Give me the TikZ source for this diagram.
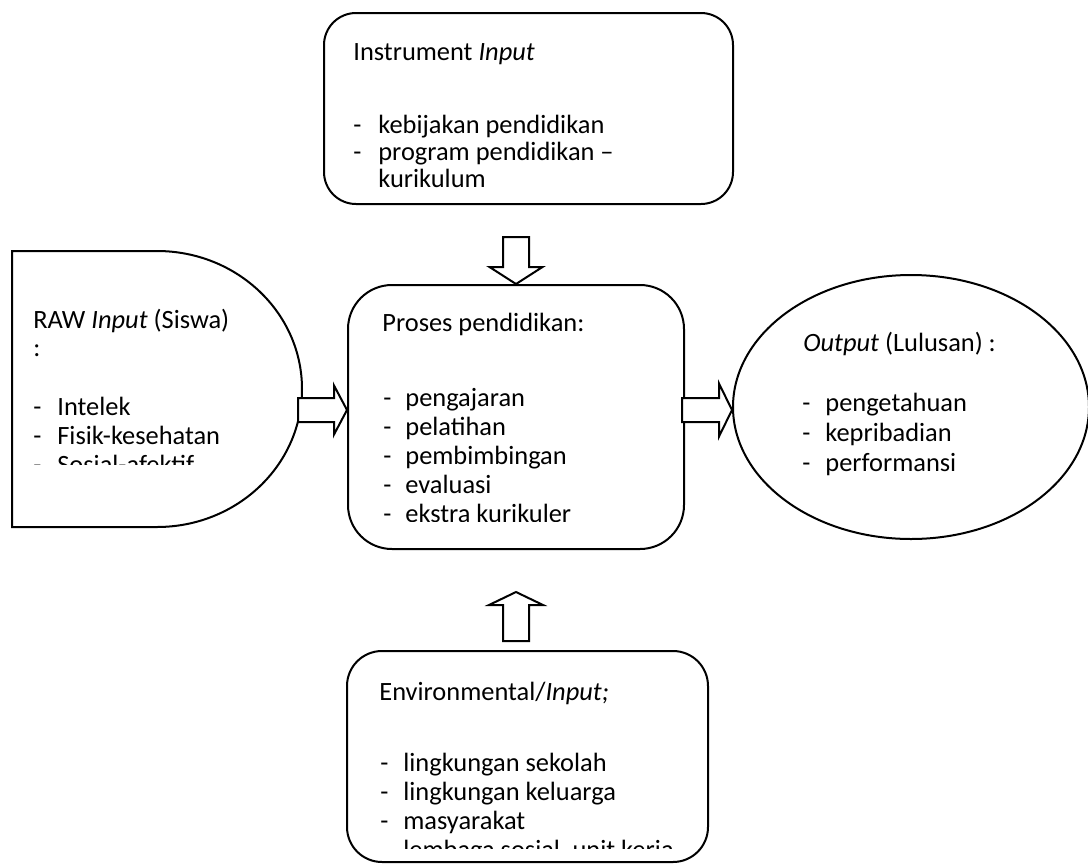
\documentclass[tikz,border=0pt]{standalone}
\usepackage{fontspec}
\setmainfont{Carlito}
\usetikzlibrary{shapes.geometric}
\newlength{\du}
\setlength{\du}{0.5pt}
\newcommand{\listdash}[1]{\makebox[#1][l]{-}}
\tikzset{
  panel/.style={draw=black, line width=2\du, fill=white, inner sep=0pt},
  blockarrow/.style={draw=black, line width=2\du, fill=white, line join=miter},
  linetext/.style={anchor=base west, inner sep=0pt, font=\fontsize{13.2}{16}\selectfont},
}
\begin{document}
\begin{tikzpicture}
\pgftransformxscale{1.000000}
\pgftransformyscale{-1.000000}
\fill[white] (0\du,0\du) rectangle (1088\du,863\du);
\useasboundingbox (0\du,0\du) rectangle (1088\du,863\du);
% boxes
\node[panel, rounded corners=32\du, minimum width=409\du, minimum height=191\du] (instrument) at (528.5\du,108.5\du) {};
\node[panel, rounded corners=44\du, minimum width=336\du, minimum height=264\du] (proses) at (516\du,417\du) {};
\node[panel, rounded corners=35\du, minimum width=361\du, minimum height=211\du] (environ) at (527.5\du,756.5\du) {};
\node[panel, ellipse, minimum width=356\du, minimum height=264\du] (output) at (911\du,407\du) {};
\draw[panel] (12\du,251\du)--(157\du,251\du) arc[start angle=-90, end angle=90, x radius=145\du, y radius=138\du]--(12\du,527\du)--cycle;
\coordinate (rawinput) at (302\du,389\du);
% block arrows
\draw[blockarrow] (proses.north)--++(-26.5\du,-17\du)--++(13.5\du,0)--++(0,-30\du)--++(26\du,0)--++(0,30\du)--++(13.5\du,0)--cycle;
\draw[blockarrow] (proses.south) ++(0,42\du)--++(-27\du,13\du)--++(14\du,0)--++(0,36\du)--++(26\du,0)--++(0,-36\du)--++(14\du,0)--cycle;
\draw[blockarrow] (proses.west) ++(0,-7\du)--++(-13\du,-24.5\du)--++(0,12.5\du)--++(-36\du,0)--++(0,24\du)--++(36\du,0)--++(0,12.5\du)--cycle;
\draw[blockarrow] (output.west) ++(0,3\du)--++(-13\du,-26.5\du)--++(0,14.5\du)--++(-37\du,0)--++(0,24\du)--++(37\du,0)--++(0,14.5\du)--cycle;
% instrument input
\node[linetext] (instrhead) at (353\du,60\du){Instrument \textit{Input}};
\node[linetext] (instrA) at (353\du,133\du){\listdash{25\du}kebijakan pendidikan};
\node[linetext] (instrB) at (353\du,160\du){\listdash{25\du}program pendidikan –};
\node[linetext] (instrC) at (378\du,187\du){kurikulum};
% raw input
\begin{scope}
\clip (12\du,251\du) rectangle (302\du,464\du);
\node[linetext] (rawhead) at (33\du,328\du){RAW \textit{Input} (Siswa)};
\node[linetext] (rawcolon) at (33\du,356\du){:};
\node[linetext] (rawA) at (33\du,415\du){\listdash{24\du}Intelek};
\node[linetext] (rawB) at (33\du,444\du){\listdash{24\du}Fisik-kesehatan};
\node[linetext] (rawC) at (33\du,473\du){\listdash{24\du}Sosial-afektif};
\end{scope}
% proses pendidikan
\begin{scope}
\clip (348\du,285\du) rectangle (684\du,521\du);
\node[linetext] (proseshead) at (382\du,331\du){Proses pendidikan:};
\node[linetext] (prosesA) at (383\du,406\du){\listdash{22\du}pengajaran};
\node[linetext] (prosesB) at (383\du,435\du){\listdash{22\du}pelatihan};
\node[linetext] (prosesC) at (383\du,464\du){\listdash{22\du}pembimbingan};
\node[linetext] (prosesD) at (383\du,493\du){\listdash{22\du}evaluasi};
\node[linetext] (prosesE) at (383\du,522\du){\listdash{22\du}ekstra kurikuler};
\end{scope}
% output
\node[linetext] (outhead) at (803\du,351\du){\textit{Output} (Lulusan) :};
\node[linetext] (outA) at (802\du,411\du){\listdash{23\du}pengetahuan};
\node[linetext] (outB) at (802\du,441\du){\listdash{23\du}kepribadian};
\node[linetext] (outC) at (802\du,471\du){\listdash{23\du}performansi};
% environmental input
\begin{scope}
\clip (347\du,651\du) rectangle (708\du,848\du);
\node[linetext] (envhead) at (379\du,700\du){Environmental/\textit{Input;}};
\node[linetext] (envA) at (380\du,771\du){\listdash{23\du}lingkungan sekolah};
\node[linetext] (envB) at (380\du,800\du){\listdash{23\du}lingkungan keluarga};
\node[linetext] (envC) at (380\du,829\du){\listdash{23\du}masyarakat};
\node[linetext] (envD) at (380\du,858\du){\listdash{23\du}lembaga sosial, unit kerja};
\end{scope}
\end{tikzpicture}
\end{document}
